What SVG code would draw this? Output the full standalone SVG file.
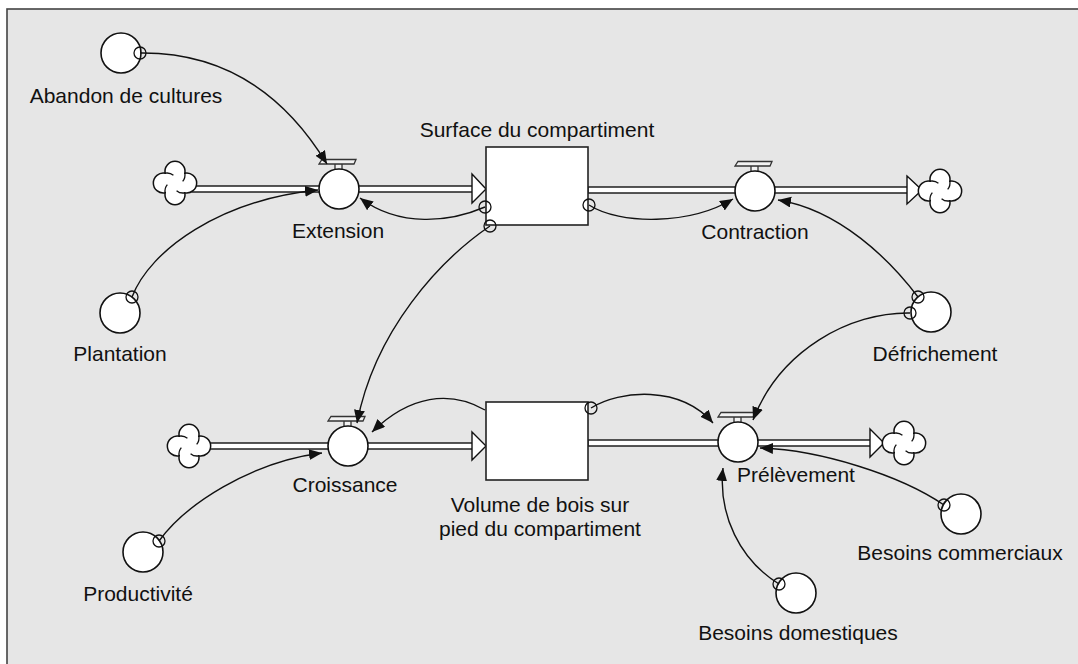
<svg xmlns="http://www.w3.org/2000/svg" xmlns:xlink="http://www.w3.org/1999/xlink" width="1078" height="664" viewBox="0 0 1078 664">
<style>
.lbl{font-family:"Liberation Sans",Arial,sans-serif;font-size:21px;fill:#111;}
.mid{text-anchor:middle;}
.aux{fill:#fff;stroke:#111;stroke-width:1.6;}
.stock{fill:#fff;stroke:#222;stroke-width:1.6;}
.conn{fill:none;stroke:#111;stroke-width:1.4;}
.org{fill:none;stroke:#111;stroke-width:1.3;}
.pipe{fill:#fff;stroke:#111;stroke-width:1.4;}
.cloud{fill:#fff;stroke:#111;stroke-width:1.5;}
.curl{fill:none;stroke:#111;stroke-width:1.3;}
.bar{fill:#f2f2f2;stroke:#333;stroke-width:1.3;}
</style>
<defs>
<marker id="ah" markerUnits="userSpaceOnUse" markerWidth="14" markerHeight="12" refX="13" refY="5.5" orient="auto">
<path d="M0,0 L13,5.5 L0,11 z" fill="#111"/>
</marker>
<g id="cloudShape">
<path class="cloud" d="M -9.83,-9.83 A 10 10 0 1 1 9.83,-9.83 A 10 10 0 1 1 9.83,9.83 A 10 10 0 1 1 -9.83,9.83 A 10 10 0 1 1 -9.83,-9.83 Z"/>
<path class="curl" d="M 9.83,-9.83 A 10 10 0 0 1 7.66,-1.57 M 9.83,9.83 A 10 10 0 0 1 1.57,7.66 M -9.83,9.83 A 10 10 0 0 1 -7.66,1.57 M -9.83,-9.83 A 10 10 0 0 1 -1.57,-7.66"/>
</g>
<g id="valveTop">
<rect class="bar" x="-4" y="-25.5" width="7" height="6"/>
<path class="bar" d="M -20,-25 L -17,-29.5 L 17,-29.5 L 15,-25 Z"/>
</g>
</defs>

<rect x="0" y="0" width="1078" height="664" fill="#fff"/>
<rect x="7" y="9" width="1080" height="670" fill="#e6e6e6" stroke="#444" stroke-width="1.6"/>

<g id="pipes">
<rect class="pipe" x="192" y="186" width="128" height="6"/>
<rect class="pipe" x="358" y="186" width="116" height="6"/>
<polygon class="pipe" points="472,174 486,189 472,203"/>
<rect class="pipe" x="588" y="187" width="148" height="6"/>
<rect class="pipe" x="774" y="187" width="135" height="6"/>
<polygon class="pipe" points="907,176 922,190 907,204"/>
<rect class="pipe" x="206" y="443" width="123" height="6"/>
<rect class="pipe" x="367" y="443" width="107" height="6"/>
<polygon class="pipe" points="472,432 486,446 472,460"/>
<rect class="pipe" x="588" y="440" width="132" height="6"/>
<rect class="pipe" x="756" y="440" width="116" height="6"/>
<polygon class="pipe" points="870,429 884,443 870,457"/>
</g>

<g id="cloud-extension-source" transform="translate(175,183)"><use xlink:href="#cloudShape" href="#cloudShape"/></g>
<g id="cloud-contraction-sink" transform="translate(940,191)"><use xlink:href="#cloudShape" href="#cloudShape"/></g>
<g id="cloud-croissance-source" transform="translate(189,446)"><use xlink:href="#cloudShape" href="#cloudShape"/></g>
<g id="cloud-prelevement-sink" transform="translate(904,443)"><use xlink:href="#cloudShape" href="#cloudShape"/></g>

<g id="stock-surface">
<rect class="stock" x="486" y="147" width="102" height="78"/>
<text class="lbl mid" x="537" y="137">Surface du compartiment</text>
</g>
<g id="stock-volume">
<rect class="stock" x="486" y="402" width="102" height="78"/>
<text class="lbl mid" x="540" y="512">Volume de bois sur</text>
<text class="lbl mid" x="540" y="536">pied du compartiment</text>
</g>

<g id="flow-extension">
<g transform="translate(339,189)"><use xlink:href="#valveTop" href="#valveTop"/><circle class="aux" cx="0" cy="0" r="20"/></g>
<text class="lbl mid" x="338" y="238">Extension</text>
</g>
<g id="flow-contraction">
<g transform="translate(755,191)"><use xlink:href="#valveTop" href="#valveTop"/><circle class="aux" cx="0" cy="0" r="20"/></g>
<text class="lbl mid" x="755" y="239">Contraction</text>
</g>
<g id="flow-croissance">
<g transform="translate(348,446)"><use xlink:href="#valveTop" href="#valveTop"/><circle class="aux" cx="0" cy="0" r="20"/></g>
<text class="lbl mid" x="345" y="492">Croissance</text>
</g>
<g id="flow-prelevement">
<g transform="translate(738,442)"><use xlink:href="#valveTop" href="#valveTop"/><circle class="aux" cx="0" cy="0" r="20"/></g>
<text class="lbl" x="737" y="482">Prélèvement</text>
</g>

<g id="aux-abandon">
<circle class="aux" cx="121" cy="53" r="20"/>
<text class="lbl mid" x="126" y="103">Abandon de cultures</text>
</g>
<g id="aux-plantation">
<circle class="aux" cx="120" cy="313" r="20"/>
<text class="lbl mid" x="120" y="361">Plantation</text>
</g>
<g id="aux-defrichement">
<circle class="aux" cx="931" cy="312" r="20"/>
<text class="lbl mid" x="935" y="361">Défrichement</text>
</g>
<g id="aux-productivite">
<circle class="aux" cx="143" cy="552" r="20"/>
<text class="lbl mid" x="138" y="601">Productivité</text>
</g>
<g id="aux-besoins-commerciaux">
<circle class="aux" cx="961" cy="514" r="20"/>
<text class="lbl mid" x="960" y="560">Besoins commerciaux</text>
</g>
<g id="aux-besoins-domestiques">
<circle class="aux" cx="796" cy="593" r="20"/>
<text class="lbl mid" x="798" y="640">Besoins domestiques</text>
</g>

<g id="connectors">
<path class="conn" marker-end="url(#ah)" d="M140,53 C225,52 285,95 327,164"/>
<circle class="org" cx="140" cy="53" r="6"/>
<path class="conn" marker-end="url(#ah)" d="M132,297 C150,250 220,200 318,190"/>
<circle class="org" cx="132" cy="297" r="6"/>
<path class="conn" marker-end="url(#ah)" d="M485,207 C450,222 400,228 360,198"/>
<circle class="org" cx="485" cy="207" r="6"/>
<path class="conn" marker-end="url(#ah)" d="M490,226 C440,260 375,330 357,423"/>
<circle class="org" cx="490" cy="226" r="6"/>
<path class="conn" marker-end="url(#ah)" d="M589,205 C620,225 690,225 733,199"/>
<circle class="org" cx="589" cy="205" r="6"/>
<path class="conn" marker-end="url(#ah)" d="M918,297 C890,260 840,210 778,200"/>
<circle class="org" cx="918" cy="297" r="6"/>
<path class="conn" marker-end="url(#ah)" d="M910,313 C850,312 780,350 753,420"/>
<circle class="org" cx="910" cy="313" r="6"/>
<path class="conn" marker-end="url(#ah)" d="M591,408 C620,390 680,385 713,423"/>
<circle class="org" cx="591" cy="408" r="6"/>
<path class="conn" marker-end="url(#ah)" d="M485,410 C450,390 410,395 372,432"/>
<path class="conn" marker-end="url(#ah)" d="M159,541 C185,505 250,462 322,453"/>
<circle class="org" cx="159" cy="541" r="6"/>
<path class="conn" marker-end="url(#ah)" d="M944,505 C900,475 820,450 760,448"/>
<circle class="org" cx="944" cy="505" r="6"/>
<path class="conn" marker-end="url(#ah)" d="M779,584 C740,560 718,515 723,468"/>
<circle class="org" cx="779" cy="584" r="6"/>
</g>
</svg>
